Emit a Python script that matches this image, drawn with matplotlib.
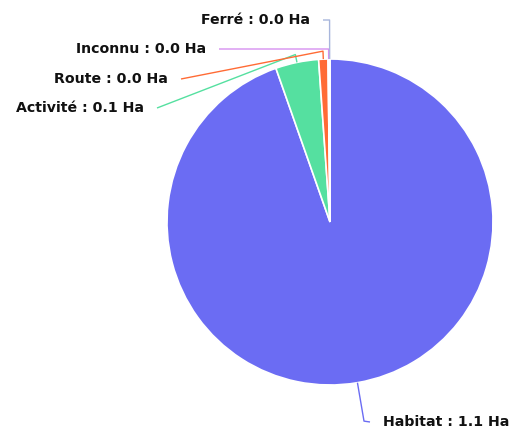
import numpy as np
import matplotlib
matplotlib.use("Agg")
import matplotlib.pyplot as plt

# surfaces (Ha)
categories = ["Habitat", "Activité", "Route", "Inconnu", "Ferré"]
values = [1.13, 0.051, 0.011, 0.0015, 0.0008]
colors = ["#6b6cf3", "#55e0a0", "#ff6b35", "#d690f0", "#a8b6dc"]

# label layout, pixel coords (y down): radial elbow length, line end, text anchor side
elbow = [39, 8, 8, 10, 39]
line_end = [(370, 422), (157, 108), (181, 79), (219, 49), (323, 20)]
side = ["left", "right", "right", "right", "right"]

W, H = 512, 433
cx, cy, r = 330, 222, 163

fig = plt.figure(figsize=(W / 100, H / 100), dpi=100)
ax = fig.add_axes([0, 0, 1, 1])

wedges, _ = ax.pie(values, colors=colors, startangle=90, counterclock=False,
                   center=(cx, H - cy), radius=r,
                   wedgeprops=dict(edgecolor="white", linewidth=1.2))
ax.set_xlim(0, W)
ax.set_ylim(0, H)
ax.set_aspect("equal")
ax.axis("off")

for w, name, v, col, e, (lx, ly), s in zip(wedges, categories, values, colors,
                                           elbow, line_end, side):
    ang = np.deg2rad((w.theta1 + w.theta2) / 2)
    x0 = cx + r * np.cos(ang)
    y0 = (H - cy) + r * np.sin(ang)
    x1 = cx + (r + e) * np.cos(ang)
    y1 = (H - cy) + (r + e) * np.sin(ang)
    ax.plot([x0, x1, lx], [y0, y1, H - ly], color=col, lw=1, solid_capstyle="butt")
    tx = lx + 13 if s == "left" else lx - 13
    ax.text(tx, H - ly, f"{name} : {v:.1f} Ha", ha=s, va="center",
            fontsize=10.2, fontweight="bold", color="#111111")

fig.savefig("out.png", dpi=100)
